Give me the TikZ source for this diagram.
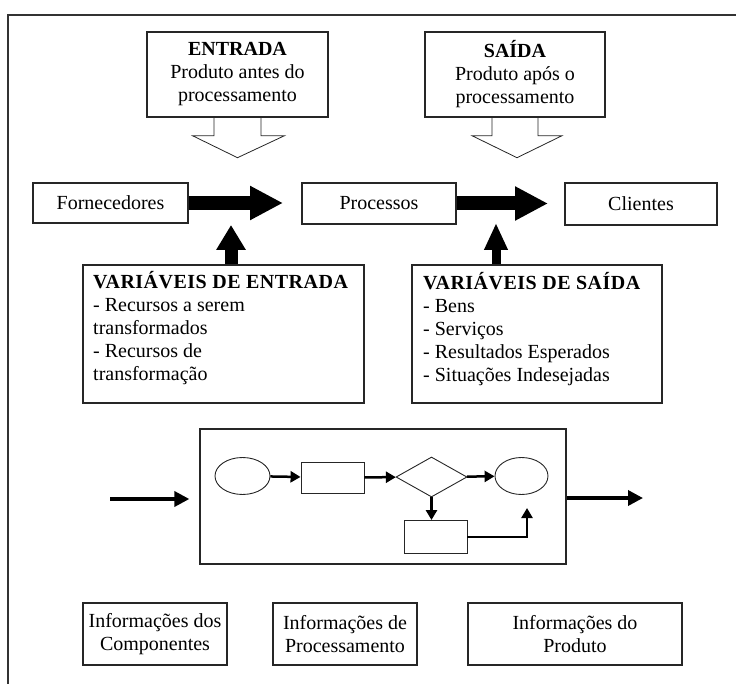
\documentclass[tikz,border=0pt]{standalone}
\usepackage{fontspec}
\setmainfont{Liberation Serif}
\usetikzlibrary{arrows.meta,shapes.geometric,calc}
\newcommand{\spacedtitle}[1]{{\addfontfeature{LetterSpace=2.5}\bfseries #1}}

\begin{document}
\begin{tikzpicture}[x=1pt,y=-1pt,
  txt/.style={font=\fontsize{20}{23}\selectfont},
  box/.style={draw=black!85, line width=1.4pt, fill=white, inner sep=0pt, align=center, txt},
  flowshape/.style={draw=black!85, line width=0.9pt, inner sep=0pt},
  hollow/.style={draw=black!85, line width=0.8pt},
  bigarrow/.style={line width=14pt, -{Triangle[length=33pt,width=32pt]}},
  ioarrow/.style={line width=3.5pt, -{Triangle[length=15pt,width=15pt]}},
  smallarrow/.style={line width=2.5pt, -{Triangle[length=10pt,width=11pt]}}
]
\useasboundingbox (0,0) rectangle (736,684);

% outer frame (left and top edges)
\draw[line width=2pt, black!80] (8,684) -- (8,15) -- (736,15);

% input / output descriptions
\node[box, minimum width=181pt, minimum height=85pt] (ent) at (237.5,74.5)
  {\textbf{ENTRADA}\\Produto antes do\\processamento};
\node[box, minimum width=180pt, minimum height=85pt] (sai) at (515,74.5)
  {\textbf{SAÍDA}\\Produto após o\\processamento};

% hollow arrows below them
\begin{scope}[shift={(ent.south)}]
  \draw[hollow] (-23.5,0) -- (-23.5,18) -- (-45,18) -- (0,40) -- (47,18) -- (23.5,18) -- (23.5,0);
\end{scope}
\begin{scope}[shift={(sai.south)}]
  \draw[hollow] (-23,0) -- (-23,18) -- (-43,18) -- (2,40) -- (47,18) -- (23,18) -- (23,0);
\end{scope}

% main chain
\node[box, minimum width=155pt, minimum height=40pt] (forn) at (110.5,203) {Fornecedores};
\node[box, minimum width=154pt, minimum height=41pt] (proc) at (379,203.5) {Processos};
\node[box, minimum width=152pt, minimum height=42pt] (cli) at (641,204) {Clientes};

\coordinate (fptip) at (283,203);
\coordinate (pctip) at (548,203.5);
\draw[bigarrow] (forn) -- (fptip);
\draw[bigarrow] (proc) -- (pctip);

% variable boxes
\node[box, minimum width=281pt, minimum height=138pt] (varent) at (223.5,334) {};
\node[txt, anchor=north west, align=left, inner sep=0pt] (varenttxt) at (93,271)
  {\spacedtitle{VARIÁVEIS DE ENTRADA}\\- Recursos a serem\\transformados\\- Recursos de\\transformação};
\node[box, minimum width=250pt, minimum height=138pt] (varsai) at (537,334) {};
\node[txt, anchor=north west, align=left, inner sep=0pt] (varsaitxt) at (423,272)
  {\spacedtitle{VARIÁVEIS DE SAÍDA}\\- Bens\\- Serviços\\- Resultados Esperados\\- Situações Indesejadas};

\coordinate (uptipL) at (231,225);
\coordinate (uptipR) at (496,223);
\draw[line width=13pt, -{Triangle[length=25pt,width=28pt]}] (varent.north -| uptipL) -- (uptipL);
\draw[line width=9pt, -{Triangle[length=27pt,width=22pt]}] (varsai.north -| uptipR) -- (uptipR);

% process flow
\node[draw=black!85, line width=1.3pt, minimum width=366pt, minimum height=135pt, inner sep=0pt] (pbox) at (383,496.5) {};

\node[flowshape, ellipse, minimum width=55pt, minimum height=37pt] (o1) at (242.5,476) {};
\node[flowshape, minimum width=63pt, minimum height=31pt] (r1) at (332.5,477.5) {};
\node[flowshape, diamond, minimum width=71pt, minimum height=40pt] (dm) at (431.5,477) {};
\node[flowshape, ellipse, minimum width=53pt, minimum height=37pt] (o2) at (521.5,476) {};
\node[flowshape, minimum width=63pt, minimum height=33pt] (r2) at (435.5,537) {};

\draw[smallarrow] (o1) -- (r1);
\draw[smallarrow] (r1) -- (dm);
\draw[smallarrow] (dm) -- (o2);
\draw[smallarrow] (dm.south) -- (dm.south |- r2.north);
\coordinate (r2end) at (527,508);
\draw[smallarrow] (r2.east) -| (r2end);

\coordinate (inA) at (110,499);
\coordinate (outB) at (643,498);
\draw[ioarrow] (inA) -- ($(pbox.west |- inA)+(-10,0)$);
\draw[ioarrow] (pbox.east |- outB) -- (outB);

% information boxes
\node[box, minimum width=144pt, minimum height=62pt] (inf1) at (155,634) {Informações dos\\Componentes};
\node[box, minimum width=144pt, minimum height=62pt] (inf2) at (345,634) {Informações de\\Processamento};
\node[box, minimum width=214pt, minimum height=62pt] (inf3) at (575,634) {Informações do\\Produto};
\end{tikzpicture}
\end{document}
